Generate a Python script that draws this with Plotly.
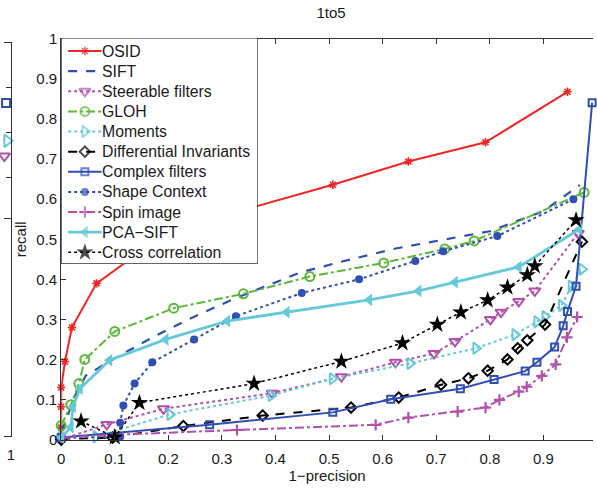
import plotly.graph_objects as go

W, H = 597, 493

# ---------------- data ----------------
osid_x = [0.0, 0.0, 0.0, 0.007, 0.02, 0.066, 0.2, 0.507, 0.648, 0.792, 0.945]
osid_y = [0.03, 0.082, 0.13, 0.195, 0.28, 0.39, 0.52, 0.636, 0.694, 0.742, 0.868]

sift_x = [0.0, 0.01, 0.022, 0.046, 0.096, 0.17, 0.237, 0.32, 0.446, 0.52, 0.624, 0.8, 0.9, 0.968]
sift_y = [0.02, 0.05, 0.10, 0.16, 0.20, 0.255, 0.30, 0.35, 0.417, 0.443, 0.477, 0.52, 0.57, 0.635]

steer_x = [0.0, 0.085, 0.191, 0.394, 0.523, 0.624, 0.696, 0.735, 0.801, 0.821, 0.854, 0.884, 0.965]
steer_y = [0.0, 0.038, 0.077, 0.116, 0.157, 0.193, 0.215, 0.245, 0.30, 0.318, 0.345, 0.371, 0.515]

gloh_x = [0.0, 0.018, 0.033, 0.044, 0.10, 0.21, 0.34, 0.464, 0.602, 0.716, 0.771, 0.976]
gloh_y = [0.035, 0.087, 0.14, 0.20, 0.27, 0.328, 0.364, 0.407, 0.441, 0.476, 0.496, 0.617]

mom_x = [0.0, 0.065, 0.203, 0.392, 0.506, 0.651, 0.774, 0.847, 0.888, 0.903, 0.934, 0.952, 0.972]
mom_y = [0.005, 0.007, 0.063, 0.11, 0.152, 0.19, 0.228, 0.262, 0.294, 0.307, 0.335, 0.383, 0.425]

di_x = [0.0, 0.096, 0.228, 0.376, 0.541, 0.63, 0.709, 0.76, 0.796, 0.833, 0.852, 0.87, 0.903, 0.972]
di_y = [0.0, 0.005, 0.034, 0.06, 0.08, 0.105, 0.137, 0.153, 0.172, 0.20, 0.228, 0.248, 0.287, 0.494]

cplx_x = [0.0, 0.277, 0.507, 0.615, 0.745, 0.808, 0.866, 0.888, 0.921, 0.937, 0.945, 0.961, 0.991]
cplx_y = [0.005, 0.037, 0.068, 0.101, 0.127, 0.15, 0.171, 0.193, 0.231, 0.284, 0.32, 0.383, 0.841]

shape_x = [0.0, 0.11, 0.11, 0.116, 0.137, 0.17, 0.248, 0.326, 0.449, 0.556, 0.661, 0.713, 0.814, 0.956]
shape_y = [0.005, 0.007, 0.042, 0.085, 0.14, 0.193, 0.25, 0.308, 0.366, 0.40, 0.446, 0.47, 0.508, 0.60]

spin_x = [0.0, 0.1, 0.328, 0.587, 0.648, 0.74, 0.792, 0.818, 0.854, 0.869, 0.897, 0.923, 0.944, 0.963]
spin_y = [0.005, 0.012, 0.024, 0.037, 0.055, 0.07, 0.08, 0.099, 0.12, 0.132, 0.159, 0.188, 0.255, 0.306]

pca_x = [0.0, 0.018, 0.022, 0.035, 0.09, 0.195, 0.31, 0.421, 0.575, 0.667, 0.735, 0.854, 0.967]
pca_y = [0.005, 0.031, 0.082, 0.127, 0.198, 0.25, 0.296, 0.318, 0.349, 0.371, 0.393, 0.431, 0.525]

cc_x = [0.037, 0.1, 0.146, 0.36, 0.523, 0.637, 0.702, 0.746, 0.796, 0.833, 0.87, 0.884, 0.961]
cc_y = [0.046, 0.006, 0.092, 0.14, 0.195, 0.241, 0.287, 0.318, 0.348, 0.38, 0.411, 0.433, 0.548]

# fragment of the neighbouring panel visible at the left edge
frag_names = ["Complex filters", "Moments", "Steerable filters"]
frag_x = [0.986, 0.989, 0.981]
frag_y = [0.866, 0.782, 0.748]

x_ticks = [0, 0.1, 0.2, 0.3, 0.4, 0.5, 0.6, 0.7, 0.8, 0.9, 1]
x_ticktext = ["0", "0.1", "0.2", "0.3", "0.4", "0.5", "0.6", "0.7", "0.8", "0.9", "1"]
y_ticks = [0, 0.1, 0.2, 0.3, 0.4, 0.5, 0.6, 0.7, 0.8, 0.9, 1]
y_ticktext = ["0", "0.1", "0.2", "0.3", "0.4", "0.5", "0.6", "0.7", "0.8", "0.9", "1"]

# ---------------- styles ----------------
RED = "#f02626"
BLUE = "#2f4fb3"
MAG = "#b34fac"
GREEN = "#5cb83a"
CYAN = "#66c9d9"
BLACK = "#000000"

series = [
    ("OSID", osid_x, osid_y, RED, "solid", 2, "asterisk-open", 7, 1.6),
    ("SIFT", sift_x, sift_y, BLUE, "dash", 2.2, None, 0, 0),
    ("Steerable filters", steer_x, steer_y, MAG, "dot", 2, "triangle-down-open", 10, 2),
    ("GLOH", gloh_x, gloh_y, GREEN, "dashdot", 2, "circle-open", 9, 2),
    ("Moments", mom_x, mom_y, CYAN, "dot", 2, "triangle-right-open", 10, 2),
    ("Differential Invariants", di_x, di_y, BLACK, "dash", 2, "diamond-open", 8, 2),
    ("Complex filters", cplx_x, cplx_y, BLUE, "solid", 2, "square-open", 7, 2),
    ("Shape Context", shape_x, shape_y, BLUE, "dot", 2, "circle", 8, 0),
    ("Spin image", spin_x, spin_y, MAG, "dashdot", 2, "cross-thin-open", 8, 2.2),
    ("PCA\u2212SIFT", pca_x, pca_y, CYAN, "solid", 2.8, "triangle-left", 11, 0),
    ("Cross correlation", cc_x, cc_y, BLACK, "dot", 1.5, "star", 13, 0),
]

AX = "#333333"
TXT = "#1a1a1a"
FONT = "Liberation Sans, Arial, sans-serif"


def px_x(p):
    return p / W


def px_y(p):
    return 1 - p / H


fig = go.Figure()
for name, xs, ys, col, dash, lw, sym, ms, mlw in series:
    tr = dict(x=xs, y=ys, name=name, cliponaxis=False, showlegend=False,
              line=dict(color=col, dash=dash, width=lw))
    if sym is None:
        tr["mode"] = "lines"
    else:
        tr["mode"] = "lines+markers"
        tr["marker"] = dict(symbol=sym, size=ms, color=col,
                            line=dict(color=col, width=mlw))
    fig.add_trace(go.Scatter(**tr))

frag_styles = {"Complex filters": (BLUE, "square-open", 8),
               "Moments": (CYAN, "triangle-right-open", 11),
               "Steerable filters": (MAG, "triangle-down-open", 10)}
for nm, fx, fy in zip(frag_names, frag_x, frag_y):
    col, sym, ms = frag_styles[nm]
    fig.add_trace(go.Scatter(x=[fx], y=[fy], mode="markers", xaxis="x2", yaxis="y2",
                             showlegend=False, cliponaxis=False, hoverinfo="skip",
                             marker=dict(symbol=sym, size=ms, color=col,
                                         line=dict(color=col, width=2))))

# ---------------- legend (MATLAB style box, drawn on its own pixel-scaled axes) ----------------
LX0, LX1, LY0, LY1 = 58, 257, 30, 264
ROW0, ROWSTEP = 43.5, 20.85
SAMPLE_X0, SAMPLE_X1, TEXT_X = 65, 99, 97

fig.add_trace(go.Scatter(x=[LX0, LX1, LX1, LX0, LX0], y=[LY0, LY0, LY1, LY1, LY0],
                         mode="lines", fill="toself", fillcolor="white",
                         line=dict(color=BLACK, width=1), xaxis="x3", yaxis="y3",
                         showlegend=False, hoverinfo="skip", cliponaxis=False))
annotations = []
for i, (name, xs, ys, col, dash, lw, sym, ms, mlw) in enumerate(series):
    ry = ROW0 + i * ROWSTEP
    tr = dict(x=[SAMPLE_X0, (SAMPLE_X0 + SAMPLE_X1) / 2, SAMPLE_X1], y=[ry, ry, ry],
              xaxis="x3", yaxis="y3", showlegend=False, hoverinfo="skip", cliponaxis=False,
              line=dict(color=col, dash=dash, width=lw))
    if sym is None:
        tr["mode"] = "lines"
    else:
        tr["mode"] = "lines+markers"
        tr["marker"] = dict(symbol=sym, size=[0, ms, 0], color=col,
                            line=dict(color=col, width=mlw))
    fig.add_trace(go.Scatter(**tr))
    annotations.append(dict(text=name, x=px_x(TEXT_X), y=px_y(ry), xref="paper", yref="paper",
                            xanchor="left", yanchor="middle", showarrow=False,
                            font=dict(size=15.8, family=FONT, color=TXT)))

fig.update_layout(
    width=W, height=H,
    margin=dict(l=0, r=0, t=0, b=0),
    paper_bgcolor="white", plot_bgcolor="rgba(0,0,0,0)",
    font=dict(family=FONT, size=15, color=TXT),
    showlegend=False,
    title=dict(text="1to5", x=px_x(331), xanchor="center", y=px_y(13), yanchor="middle",
               font=dict(size=15, color=TXT)),
    xaxis=dict(domain=[px_x(58), 1], range=[0, (W - 58) / 543.0],
               tickvals=x_ticks, ticktext=x_ticktext, ticks="inside", ticklen=5,
               tickcolor=AX, showline=True, linecolor=AX, linewidth=1, mirror="ticks",
               showgrid=False, zeroline=False, ticklabelstandoff=5,
               title=dict(text="1\u2212precision", standoff=4, font=dict(size=15))),
    yaxis=dict(domain=[px_y(446), px_y(31)], range=[0, 1],
               tickvals=y_ticks, ticktext=y_ticktext, ticks="inside", ticklen=5,
               tickcolor=AX, showline=True, linecolor=AX, linewidth=1, mirror=False,
               showgrid=False, zeroline=False,
               title=dict(text="recall", standoff=6, font=dict(size=15))),
    xaxis2=dict(domain=[0, px_x(7)], range=[0.98, 1.0], anchor="y2",
                tickvals=[1], ticktext=["1"], ticks="", showline=True, linecolor=AX,
                linewidth=1, mirror=True, showgrid=False, zeroline=False,
                ticklabelstandoff=5),
    yaxis2=dict(domain=[px_y(442), px_y(35)], range=[0.126, 1.0], anchor="x2", side="right",
                tickvals=[0.7, 0.8, 0.9], ticks="inside", ticklen=5, tickcolor=AX,
                showticklabels=False, showline=True, linecolor=AX, linewidth=1,
                showgrid=False, zeroline=False),
    xaxis3=dict(domain=[px_x(LX0), px_x(LX1)], range=[LX0, LX1], anchor="y3", visible=False,
                fixedrange=True),
    yaxis3=dict(domain=[px_y(LY1), px_y(LY0)], range=[LY1, LY0], anchor="x3", visible=False,
                fixedrange=True),
    annotations=annotations,
    shapes=[dict(type="line", xref="paper", yref="paper", x0=0, x1=px_x(7),
                 y0=px_y(217), y1=px_y(217), line=dict(color=AX, width=1))],
)

fig.write_html("out.html")
